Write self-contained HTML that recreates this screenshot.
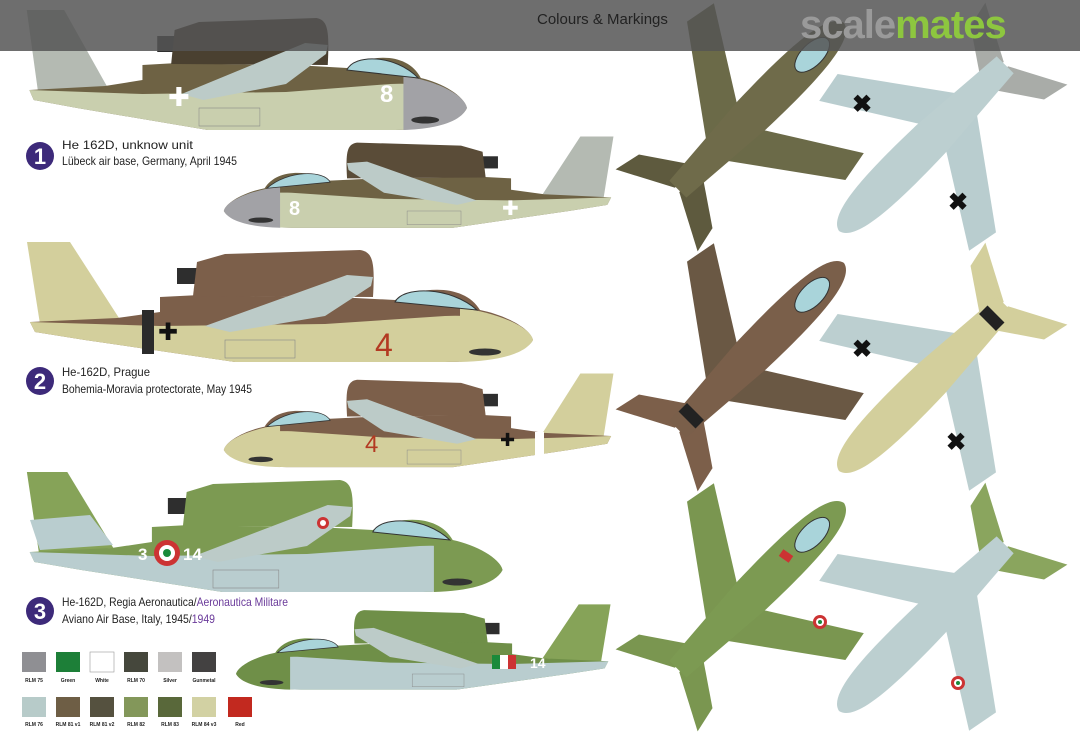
<!DOCTYPE html>
<html><head><meta charset="utf-8"><style>
html,body{margin:0;padding:0;background:#fff}
body{width:1080px;height:740px;overflow:hidden;position:relative;font-family:"Liberation Sans",sans-serif}
svg{position:absolute;left:0;top:0}
</style></head><body>
<svg width="1080" height="740" viewBox="0 0 1080 740" xmlns="http://www.w3.org/2000/svg" font-family="Liberation Sans, sans-serif">
<defs>
<g id="prof">
  <path d="M2,2 L45,2 L94,78 L15,84 Z" fill="var(--fin)"/>
  <path d="M5,82 L92,78 L135,72 L135,57 L175,55 L330,58 L370,60 C400,45 440,45 455,70 C480,75 505,88 508,100 C500,115 460,122 420,122 L210,122 L60,100 L10,92 Z" fill="var(--top)"/>
  <path d="M5,82 L135,86 L300,84 L420,76 C460,74 500,84 508,100 C500,115 460,122 420,122 L210,122 L60,100 L10,92 Z" fill="var(--low)"/>
  <path d="M435,68 C470,72 505,86 508,100 C500,115 470,121 435,122 Z" fill="var(--nose)"/>
  <rect x="152" y="28" width="20" height="16" fill="#2e2e2e"/>
  <path d="M168,56 L172,22 L200,14 L335,10 C348,12 350,22 348,57 Z" fill="var(--pod)"/>
  <path d="M370,62 C378,46 425,46 452,70 Z" fill="#a9d4da" stroke="#333" stroke-width="1"/>
  <path d="M180,86 L322,35 L348,37 L346,46 L300,76 L205,92 Z" fill="#bccbc8"/>
  <rect x="200" y="100" width="70" height="18" fill="var(--low)" stroke="#888" stroke-width="0.6"/>
  <ellipse cx="460" cy="112" rx="16" ry="3.5" fill="#333"/>
</g>
<g id="plan">
  <path d="M-15,-5 L-106,-62 L-112,-30 L-15,40 Z" fill="var(--w)"/>
  <path d="M15,-5 L106,-62 L112,-30 L15,40 Z" fill="var(--w)"/>
  <path d="M-8,68 L-52,98 L-58,125 L-3,96 Z" fill="var(--t)"/>
  <path d="M8,68 L52,98 L58,125 L3,96 Z" fill="var(--t)"/>
  <path d="M0,-140 C20,-136 22,-80 20,-10 L12,95 L-12,95 L-20,-10 C-22,-80 -20,-136 0,-140 Z" fill="var(--f)"/>
</g>
</defs>

<!-- Scheme 1 -->
<g transform="translate(25,8) scale(0.87,1)" style="--fin:#b4bab2;--top:#6e6244;--low:#c9cfae;--nose:#a2a2a6;--pod:#4a4030"><use href="#prof"/></g>
<text x="380" y="102" font-size="24" font-weight="bold" fill="#fff">8</text>
<text x="168" y="106" font-size="26" fill="#fff">✚</text>
<g transform="translate(615,135) scale(-0.77,0.76)" style="--fin:#b4bab2;--top:#6e6244;--low:#c9cfae;--nose:#a2a2a6;--pod:#5a4c38"><use href="#prof"/></g>
<text x="289" y="215" font-size="20" font-weight="bold" fill="#fff">8</text>
<text x="502" y="215" font-size="20" fill="#fff">✚</text>

<!-- Scheme 2 -->
<g transform="translate(25,240)" style="--fin:#d3cf9c;--top:#7c5f4a;--low:#d3cf9c;--nose:#d3cf9c;--pod:#7c5f4a"><use href="#prof"/></g>
<rect x="142" y="310" width="12" height="44" fill="#2b2b2b"/>
<text x="158" y="340" font-size="24" fill="#111">✚</text>
<text x="375" y="356" font-size="32" fill="#b33a22">4</text>
<g transform="translate(615,372) scale(-0.77,0.78)" style="--fin:#d3cf9c;--top:#7c5f4a;--low:#d3cf9c;--nose:#d3cf9c;--pod:#7c5f4a"><use href="#prof"/></g>
<rect x="535" y="432" width="9" height="34" fill="#fff"/>
<text x="500" y="446" font-size="18" fill="#111">✚</text>
<text x="365" y="452" font-size="24" fill="#b33a22">4</text>

<!-- Scheme 3 -->
<g transform="translate(25,470) scale(0.94,1)" style="--fin:#86a358;--top:#7c9a52;--low:#b9cdcf;--nose:#7c9a52;--pod:#7c9a52"><use href="#prof"/></g>
<path d="M30,520 L90,515 L113,545 L40,550 Z" fill="#b9cdcf"/>
<circle cx="167" cy="553" r="13" fill="#c33"/><circle cx="167" cy="553" r="8" fill="#fff"/><circle cx="167" cy="553" r="4" fill="#1a8a3a"/>
<text x="138" y="560" font-size="17" font-weight="bold" fill="#fff">3</text>
<text x="183" y="560" font-size="17" font-weight="bold" fill="#fff">14</text>
<circle cx="323" cy="523" r="6" fill="#c33"/><circle cx="323" cy="523" r="3" fill="#fff"/>
<g transform="translate(612,603) scale(-0.74,0.71)" style="--fin:#86a358;--top:#6f8f48;--low:#b9cdcf;--nose:#6f8f48;--pod:#6f8f48"><use href="#prof"/></g>
<rect x="492" y="655" width="8" height="14" fill="#1a8a3a"/><rect x="500" y="655" width="8" height="14" fill="#fff"/><rect x="508" y="655" width="8" height="14" fill="#c33"/>
<text x="530" y="668" font-size="14" font-weight="bold" fill="#fff">14</text>

<!-- titles -->
<g font-size="12" fill="#222">
  <circle cx="40" cy="156" r="14" fill="#3d2a7a"/><text x="40" y="164" font-size="22" font-weight="bold" fill="#fff" text-anchor="middle">1</text>
  <text x="62" y="149" textLength="131" lengthAdjust="spacingAndGlyphs">He 162D, unknow unit</text>
  <text x="62" y="165" textLength="175" lengthAdjust="spacingAndGlyphs">Lübeck air base, Germany, April 1945</text>
  <circle cx="40" cy="381" r="14" fill="#3d2a7a"/><text x="40" y="389" font-size="22" font-weight="bold" fill="#fff" text-anchor="middle">2</text>
  <text x="62" y="376" textLength="88" lengthAdjust="spacingAndGlyphs">He-162D, Prague</text>
  <text x="62" y="393" textLength="190" lengthAdjust="spacingAndGlyphs">Bohemia-Moravia protectorate, May 1945</text>
  <circle cx="40" cy="611" r="14" fill="#3d2a7a"/><text x="40" y="619" font-size="22" font-weight="bold" fill="#fff" text-anchor="middle">3</text>
  <text x="62" y="606" textLength="226" lengthAdjust="spacingAndGlyphs">He-162D, Regia Aeronautica/<tspan fill="#6a3a9a">Aeronautica Militare</tspan></text>
  <text x="62" y="623" textLength="153" lengthAdjust="spacingAndGlyphs">Aviano Air Base, Italy, 1945/<tspan fill="#6a3a9a">1949</tspan></text>
</g>

<!-- swatches -->
<g font-size="5" font-weight="bold" fill="#222" text-anchor="middle">
  <rect x="22" y="652" width="24" height="20" fill="#8f8f93"/><text x="34" y="682">RLM 75</text>
  <rect x="56" y="652" width="24" height="20" fill="#1d7f38"/><text x="68" y="682">Green</text>
  <rect x="90" y="652" width="24" height="20" fill="#fff" stroke="#999" stroke-width=".6"/><text x="102" y="682">White</text>
  <rect x="124" y="652" width="24" height="20" fill="#45473c"/><text x="136" y="682">RLM 70</text>
  <rect x="158" y="652" width="24" height="20" fill="#c3c1c0"/><text x="170" y="682">Silver</text>
  <rect x="192" y="652" width="24" height="20" fill="#434141"/><text x="204" y="682">Gunmetal</text>
  <rect x="22" y="697" width="24" height="20" fill="#b7cbc9"/><text x="34" y="726">RLM 76</text>
  <rect x="56" y="697" width="24" height="20" fill="#6e5e45"/><text x="68" y="726">RLM 81 v1</text>
  <rect x="90" y="697" width="24" height="20" fill="#55513f"/><text x="102" y="726">RLM 81 v2</text>
  <rect x="124" y="697" width="24" height="20" fill="#83975a"/><text x="136" y="726">RLM 82</text>
  <rect x="158" y="697" width="24" height="20" fill="#59683a"/><text x="170" y="726">RLM 83</text>
  <rect x="192" y="697" width="24" height="20" fill="#d2d1a3"/><text x="204" y="726">RLM 84 v3</text>
  <rect x="228" y="697" width="24" height="20" fill="#c2291f"/><text x="240" y="726">Red</text>
</g>

<!-- plan views -->
<g transform="translate(745,122) rotate(45)" style="--w:#6b6a48;--t:#5e5a3e;--f:#6f6b4a"><use href="#plan"/><ellipse cx="0" cy="-95" rx="11" ry="22" fill="#a9d4da" stroke="#333"/></g>
<g transform="translate(938,132) rotate(225)" style="--w:#b9cdcf;--t:#a9aca8;--f:#bccfd0"><use href="#plan"/></g>
<g transform="translate(745,362) rotate(45)" style="--w:#6a5844;--t:#7c5f4a;--f:#7a5f4a"><use href="#plan"/><ellipse cx="0" cy="-95" rx="11" ry="22" fill="#a9d4da" stroke="#333"/><rect x="-12" y="70" width="24" height="12" fill="#222"/></g>
<g transform="translate(938,372) rotate(225)" style="--w:#bccfd0;--t:#d3cf9c;--f:#d3cf9c"><use href="#plan"/><rect x="-12" y="70" width="24" height="12" fill="#222"/></g>
<g transform="translate(745,602) rotate(45)" style="--w:#7a9650;--t:#7a9650;--f:#7c9a52"><use href="#plan"/><ellipse cx="0" cy="-95" rx="11" ry="22" fill="#a9d4da" stroke="#333"/></g>
<g transform="translate(938,612) rotate(225)" style="--w:#bccfd0;--t:#8aa55e;--f:#bccfd0"><use href="#plan"/></g>
<g font-size="24" font-weight="bold" fill="#111" text-anchor="middle">
  <text x="862" y="112">✖</text><text x="958" y="210">✖</text>
  <text x="862" y="357">✖</text><text x="956" y="450">✖</text>
</g>
<g>
  <circle cx="820" cy="622" r="7" fill="#c33"/><circle cx="820" cy="622" r="4" fill="#fff"/><circle cx="820" cy="622" r="2" fill="#1a8a3a"/>
  <circle cx="958" cy="683" r="7" fill="#c33"/><circle cx="958" cy="683" r="4" fill="#fff"/><circle cx="958" cy="683" r="2" fill="#1a8a3a"/>
  <rect x="780" y="552" width="12" height="8" fill="#c33" transform="rotate(35 786 556)"/>
</g>

<!-- header bar -->
<rect x="0" y="0" width="1080" height="51" fill="#555" opacity="0.85"/>
<text x="537" y="24" font-size="15" fill="#222">Colours &amp; Markings</text>
<text x="800" y="38" font-size="40" font-weight="bold" fill="#9a9a9a" letter-spacing="-1">scale<tspan fill="#8dc63f">mates</tspan></text>
</svg>
</body></html>
